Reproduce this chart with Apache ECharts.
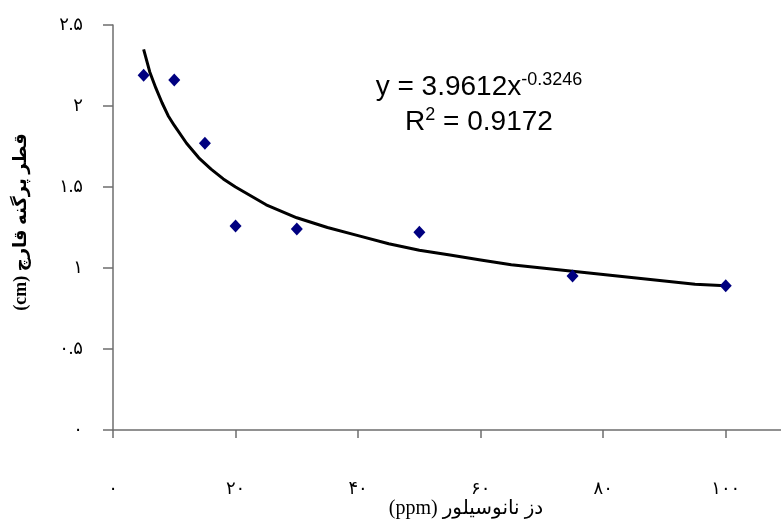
<!DOCTYPE html>
<html><head><meta charset="utf-8">
<script src="https://cdn.jsdelivr.net/npm/echarts@6/dist/echarts.min.js"></script>
<style>html,body{margin:0;padding:0;background:#fff}#c{width:781px;height:524px}</style>
</head><body><div id="c"></div>
<script>
// Observed data (dose ppm, colony diameter cm)
const doses = [5, 10, 15, 20, 30, 50, 75, 100];
const diameters = [2.19, 2.16, 1.77, 1.26, 1.24, 1.22, 0.95, 0.89];
// Power trend line
const trendX = [5, 6, 7, 8, 9, 10, 12, 14, 16, 18, 20, 25, 30, 35, 40, 45, 50, 55, 60, 65, 70, 75, 80, 85, 90, 95, 100];
const trendY = [2.35, 2.21, 2.11, 2.02, 1.94, 1.88, 1.77, 1.68, 1.61, 1.55, 1.50, 1.39, 1.31, 1.25, 1.20, 1.15, 1.11, 1.08, 1.05, 1.02, 1.00, 0.98, 0.96, 0.94, 0.92, 0.90, 0.89];
// Tick labels
const xTickValues = [0, 20, 40, 60, 80, 100];
const xTickLabels = ['۰', '۲۰', '۴۰', '۶۰', '۸۰', '۱۰۰'];
const yTickValues = [0, 0.5, 1, 1.5, 2, 2.5];
const yTickLabels = ['۰', '۰.۵', '۱', '۱.۵', '۲', '۲.۵'];
const xTitle = '(ppm) دز نانوسیلور';
const yTitle = '(cm) قطر پرگنه قارچ';
const eqLine1 = 'y = 3.9612x';
const eqExp = '-0.3246';
const eqLine2 = 'R';
const eqR2 = ' = 0.9172';

const chart = echarts.init(document.getElementById('c'), null, {renderer: 'canvas'});
const axisColor = '#6e6e6e';
const lblFont = '"Times New Roman", "Liberation Serif", "DejaVu Sans", serif';
const eqFont = 'Arial, "Liberation Sans", sans-serif';
chart.setOption({
  animation: false,
  grid: {left: 113, top: 25, width: 674, height: 405, containLabel: false, outerBoundsMode: 'none'},
  xAxis: {
    type: 'value', min: 0, max: 110, interval: 20,
    axisLine: {show: true, onZero: false, lineStyle: {color: axisColor, width: 1.5}},
    axisTick: {show: true, length: 8, lineStyle: {color: axisColor, width: 1.5}},
    splitLine: {show: false},
    axisLabel: {
      margin: 50, color: '#000', fontSize: 18, fontFamily: lblFont,
      formatter: v => { const i = xTickValues.indexOf(v); return i >= 0 ? xTickLabels[i] : ''; }
    }
  },
  yAxis: {
    type: 'value', min: 0, max: 2.5, interval: 0.5,
    axisLine: {show: true, onZero: false, lineStyle: {color: axisColor, width: 1.5}},
    axisTick: {show: true, length: 10, lineStyle: {color: axisColor, width: 1.5}},
    splitLine: {show: false},
    axisLabel: {
      margin: 30, color: '#000', fontSize: 18, fontFamily: lblFont,
      formatter: v => { const i = yTickValues.findIndex(t => Math.abs(t - v) < 1e-9); return i >= 0 ? yTickLabels[i] : ''; }
    }
  },
  graphic: [
    {type: 'text', style: {text: yTitle, font: 'bold 18px "Times New Roman", "DejaVu Sans", serif', fill: '#000', align: 'center', verticalAlign: 'middle'}, x: 21, y: 222, rotation: Math.PI / 2},
    {type: 'text', style: {text: xTitle, font: '20px "Times New Roman", "DejaVu Sans", serif', fill: '#000', align: 'center', verticalAlign: 'middle'}, x: 466, y: 509},
    {type: 'text', style: {
      text: '{m|' + eqLine1 + '}{s|' + eqExp + '}', align: 'center', verticalAlign: 'middle',
      rich: {
        m: {fontFamily: eqFont, fontSize: 28, color: '#000'},
        s: {fontFamily: eqFont, fontSize: 18, color: '#000', verticalAlign: 'top', padding: [0, 0, 14, 0]}
      }
    }, x: 479, y: 87},
    {type: 'text', style: {
      text: '{m|' + eqLine2 + '}{s|2}{m|' + eqR2 + '}', align: 'center', verticalAlign: 'middle',
      rich: {
        m: {fontFamily: eqFont, fontSize: 28, color: '#000'},
        s: {fontFamily: eqFont, fontSize: 18, color: '#000', verticalAlign: 'top', padding: [0, 0, 14, 0]}
      }
    }, x: 479, y: 122}
  ],
  series: [
    {
      type: 'line', data: trendX.map((x, i) => [x, trendY[i]]), showSymbol: false, symbol: 'none',
      lineStyle: {color: '#000', width: 3}, smooth: false, z: 2
    },
    {
      type: 'scatter', data: doses.map((x, i) => [x, diameters[i]]), symbol: 'diamond', symbolSize: [12, 13],
      itemStyle: {color: '#000080', opacity: 1}, z: 3
    }
  ]
});
</script></body></html>
